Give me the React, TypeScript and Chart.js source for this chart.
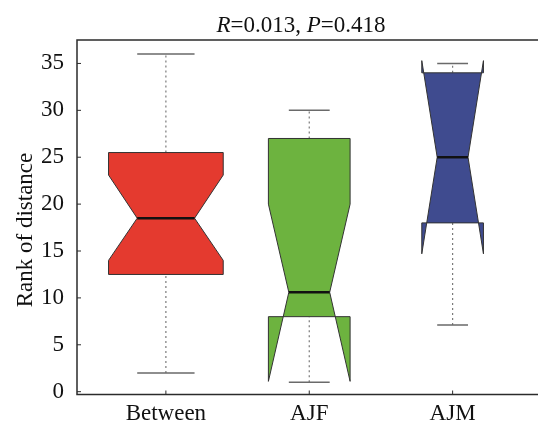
import { useEffect, useRef } from 'react';
import { Chart, registerables } from 'chart.js';

Chart.register(...registerables);

const categories = ['Between', 'AJF', 'AJM'];
const whiskerLow = [2, 1, 7.1];
const q1 = [12.5, 8, 18];
const median = [18.5, 10.6, 25];
const q3 = [25.5, 27, 34];
const whiskerHigh = [36, 30, 35];
const notchLow = [14, 1.1, 14.7];
const notchHigh = [23.1, 20, 35.3];
const boxWidths = [0.8, 0.57, 0.43];
const boxColors = ['#E43A2F', '#6DB33F', '#3F4B8F'];
const yTicks = [0, 5, 10, 15, 20, 25, 30, 35];
const titleParts = [
  { text: 'R', italic: true },
  { text: '=0.013, ', italic: false },
  { text: 'P', italic: true },
  { text: '=0.418', italic: false },
];
const yLabel = 'Rank of distance';

const FONT = '"Liberation Serif", "Times New Roman", serif';

const boxPlugin = {
  id: 'notchedBoxes',
  afterDatasetsDraw(chart: any) {
    const { ctx } = chart;
    const x = chart.scales.x;
    const y = chart.scales.y;
    categories.forEach((_, i) => {
      const c = i + 1;
      const half = boxWidths[i] / 2;
      const nh = boxWidths[i] / 4;
      const cx = x.getPixelForValue(c);
      ctx.save();
      // whiskers (dotted)
      ctx.strokeStyle = '#7a7a7a';
      ctx.lineWidth = 1.2;
      ctx.setLineDash([2, 3]);
      ctx.beginPath();
      ctx.moveTo(cx, y.getPixelForValue(whiskerLow[i]));
      ctx.lineTo(cx, y.getPixelForValue(q1[i]));
      ctx.moveTo(cx, y.getPixelForValue(q3[i]));
      ctx.lineTo(cx, y.getPixelForValue(whiskerHigh[i]));
      ctx.stroke();
      ctx.setLineDash([]);
      // caps
      ctx.strokeStyle = '#6a6a6a';
      ctx.lineWidth = 1.5;
      ctx.beginPath();
      [whiskerLow[i], whiskerHigh[i]].forEach((v) => {
        const py = y.getPixelForValue(v);
        ctx.moveTo(x.getPixelForValue(c - nh), py);
        ctx.lineTo(x.getPixelForValue(c + nh), py);
      });
      ctx.stroke();
      // notched box
      const pts: [number, number][] = [
        [c - half, q3[i]],
        [c - half, notchHigh[i]],
        [c - nh, median[i]],
        [c - half, notchLow[i]],
        [c - half, q1[i]],
        [c + half, q1[i]],
        [c + half, notchLow[i]],
        [c + nh, median[i]],
        [c + half, notchHigh[i]],
        [c + half, q3[i]],
      ];
      ctx.beginPath();
      pts.forEach(([vx, vy], k) => {
        const px = x.getPixelForValue(vx);
        const py = y.getPixelForValue(vy);
        if (k === 0) ctx.moveTo(px, py);
        else ctx.lineTo(px, py);
      });
      ctx.closePath();
      ctx.fillStyle = boxColors[i];
      ctx.fill();
      ctx.strokeStyle = '#333333';
      ctx.lineWidth = 1;
      ctx.stroke();
      // median
      ctx.strokeStyle = '#111111';
      ctx.lineWidth = 2.5;
      ctx.beginPath();
      const my = y.getPixelForValue(median[i]);
      ctx.moveTo(x.getPixelForValue(c - nh), my);
      ctx.lineTo(x.getPixelForValue(c + nh), my);
      ctx.stroke();
      ctx.restore();
    });
  },
  afterDraw(chart: any) {
    const { ctx, chartArea } = chart;
    const x = chart.scales.x;
    const y = chart.scales.y;
    ctx.save();
    // frame
    ctx.strokeStyle = '#2b2b2b';
    ctx.lineWidth = 1.5;
    ctx.strokeRect(chartArea.left, chartArea.top, chartArea.right - chartArea.left, chartArea.bottom - chartArea.top);
    // inward tick marks
    ctx.lineWidth = 1;
    ctx.beginPath();
    y.ticks.forEach((t: any) => {
      const py = y.getPixelForValue(t.value);
      ctx.moveTo(chartArea.left, py);
      ctx.lineTo(chartArea.left + 4, py);
    });
    x.ticks.forEach((t: any) => {
      const px = x.getPixelForValue(t.value);
      ctx.moveTo(px, chartArea.bottom);
      ctx.lineTo(px, chartArea.bottom - 4);
    });
    ctx.stroke();
    // title with italic parts
    ctx.fillStyle = '#111111';
    ctx.textBaseline = 'alphabetic';
    ctx.textAlign = 'left';
    const fontFor = (it: boolean) => `${it ? 'italic ' : ''}23px ${FONT}`;
    let total = 0;
    titleParts.forEach((p) => {
      ctx.font = fontFor(p.italic);
      total += ctx.measureText(p.text).width;
    });
    let tx = 301 - total / 2;
    titleParts.forEach((p) => {
      ctx.font = fontFor(p.italic);
      ctx.fillText(p.text, tx, 32);
      tx += ctx.measureText(p.text).width;
    });
    // y label
    ctx.font = `23px ${FONT}`;
    ctx.translate(32, 230);
    ctx.rotate(-Math.PI / 2);
    ctx.textAlign = 'center';
    ctx.fillText(yLabel, 0, 0);
    ctx.restore();
  },
};

export default function App() {
  const ref = useRef<HTMLCanvasElement>(null);
  useEffect(() => {
    if (!ref.current) return;
    const chart = new Chart(ref.current, {
      type: 'scatter',
      data: {
        datasets: [
          {
            label: 'median',
            data: categories.map((_, i) => ({ x: i + 1, y: median[i] })),
            pointRadius: 0,
            pointHoverRadius: 0,
          },
        ],
      },
      options: {
        responsive: false,
        animation: false,
        layout: { padding: { top: 40, right: 4.5, left: 0, bottom: 0 } },
        plugins: { legend: { display: false }, tooltip: { enabled: false }, title: { display: false } },
        scales: {
          x: {
            type: 'linear',
            min: 0.38,
            max: 3.62,
            grid: { display: false, drawTicks: false },
            border: { display: false },
            afterBuildTicks: (s: any) => {
              s.ticks = categories.map((_, i) => ({ value: i + 1 }));
            },
            afterFit: (s: any) => {
              s.height = 29.5;
            },
            ticks: {
              padding: 6,
              color: '#111111',
              font: { family: FONT, size: 23 },
              maxRotation: 0,
              autoSkip: false,
              callback: (v: any) => categories[Math.round(Number(v)) - 1] ?? '',
            },
          },
          y: {
            type: 'linear',
            min: -0.3,
            max: 37.5,
            grid: { display: false, drawTicks: false },
            border: { display: false },
            afterBuildTicks: (s: any) => {
              s.ticks = yTicks.map((v) => ({ value: v }));
            },
            afterFit: (s: any) => {
              s.width = 77;
            },
            ticks: {
              padding: 13,
              color: '#111111',
              font: { family: FONT, size: 23 },
              autoSkip: false,
            },
          },
        },
      },
      plugins: [boxPlugin],
    });
    return () => chart.destroy();
  }, []);
  return (
    <div style={{ position: 'fixed', left: 0, top: 0, width: 538, height: 424, overflow: 'hidden', background: '#fff' }}>
      <canvas ref={ref} width={546} height={424} style={{ display: 'block', width: 546, height: 424 }} />
    </div>
  );
}
